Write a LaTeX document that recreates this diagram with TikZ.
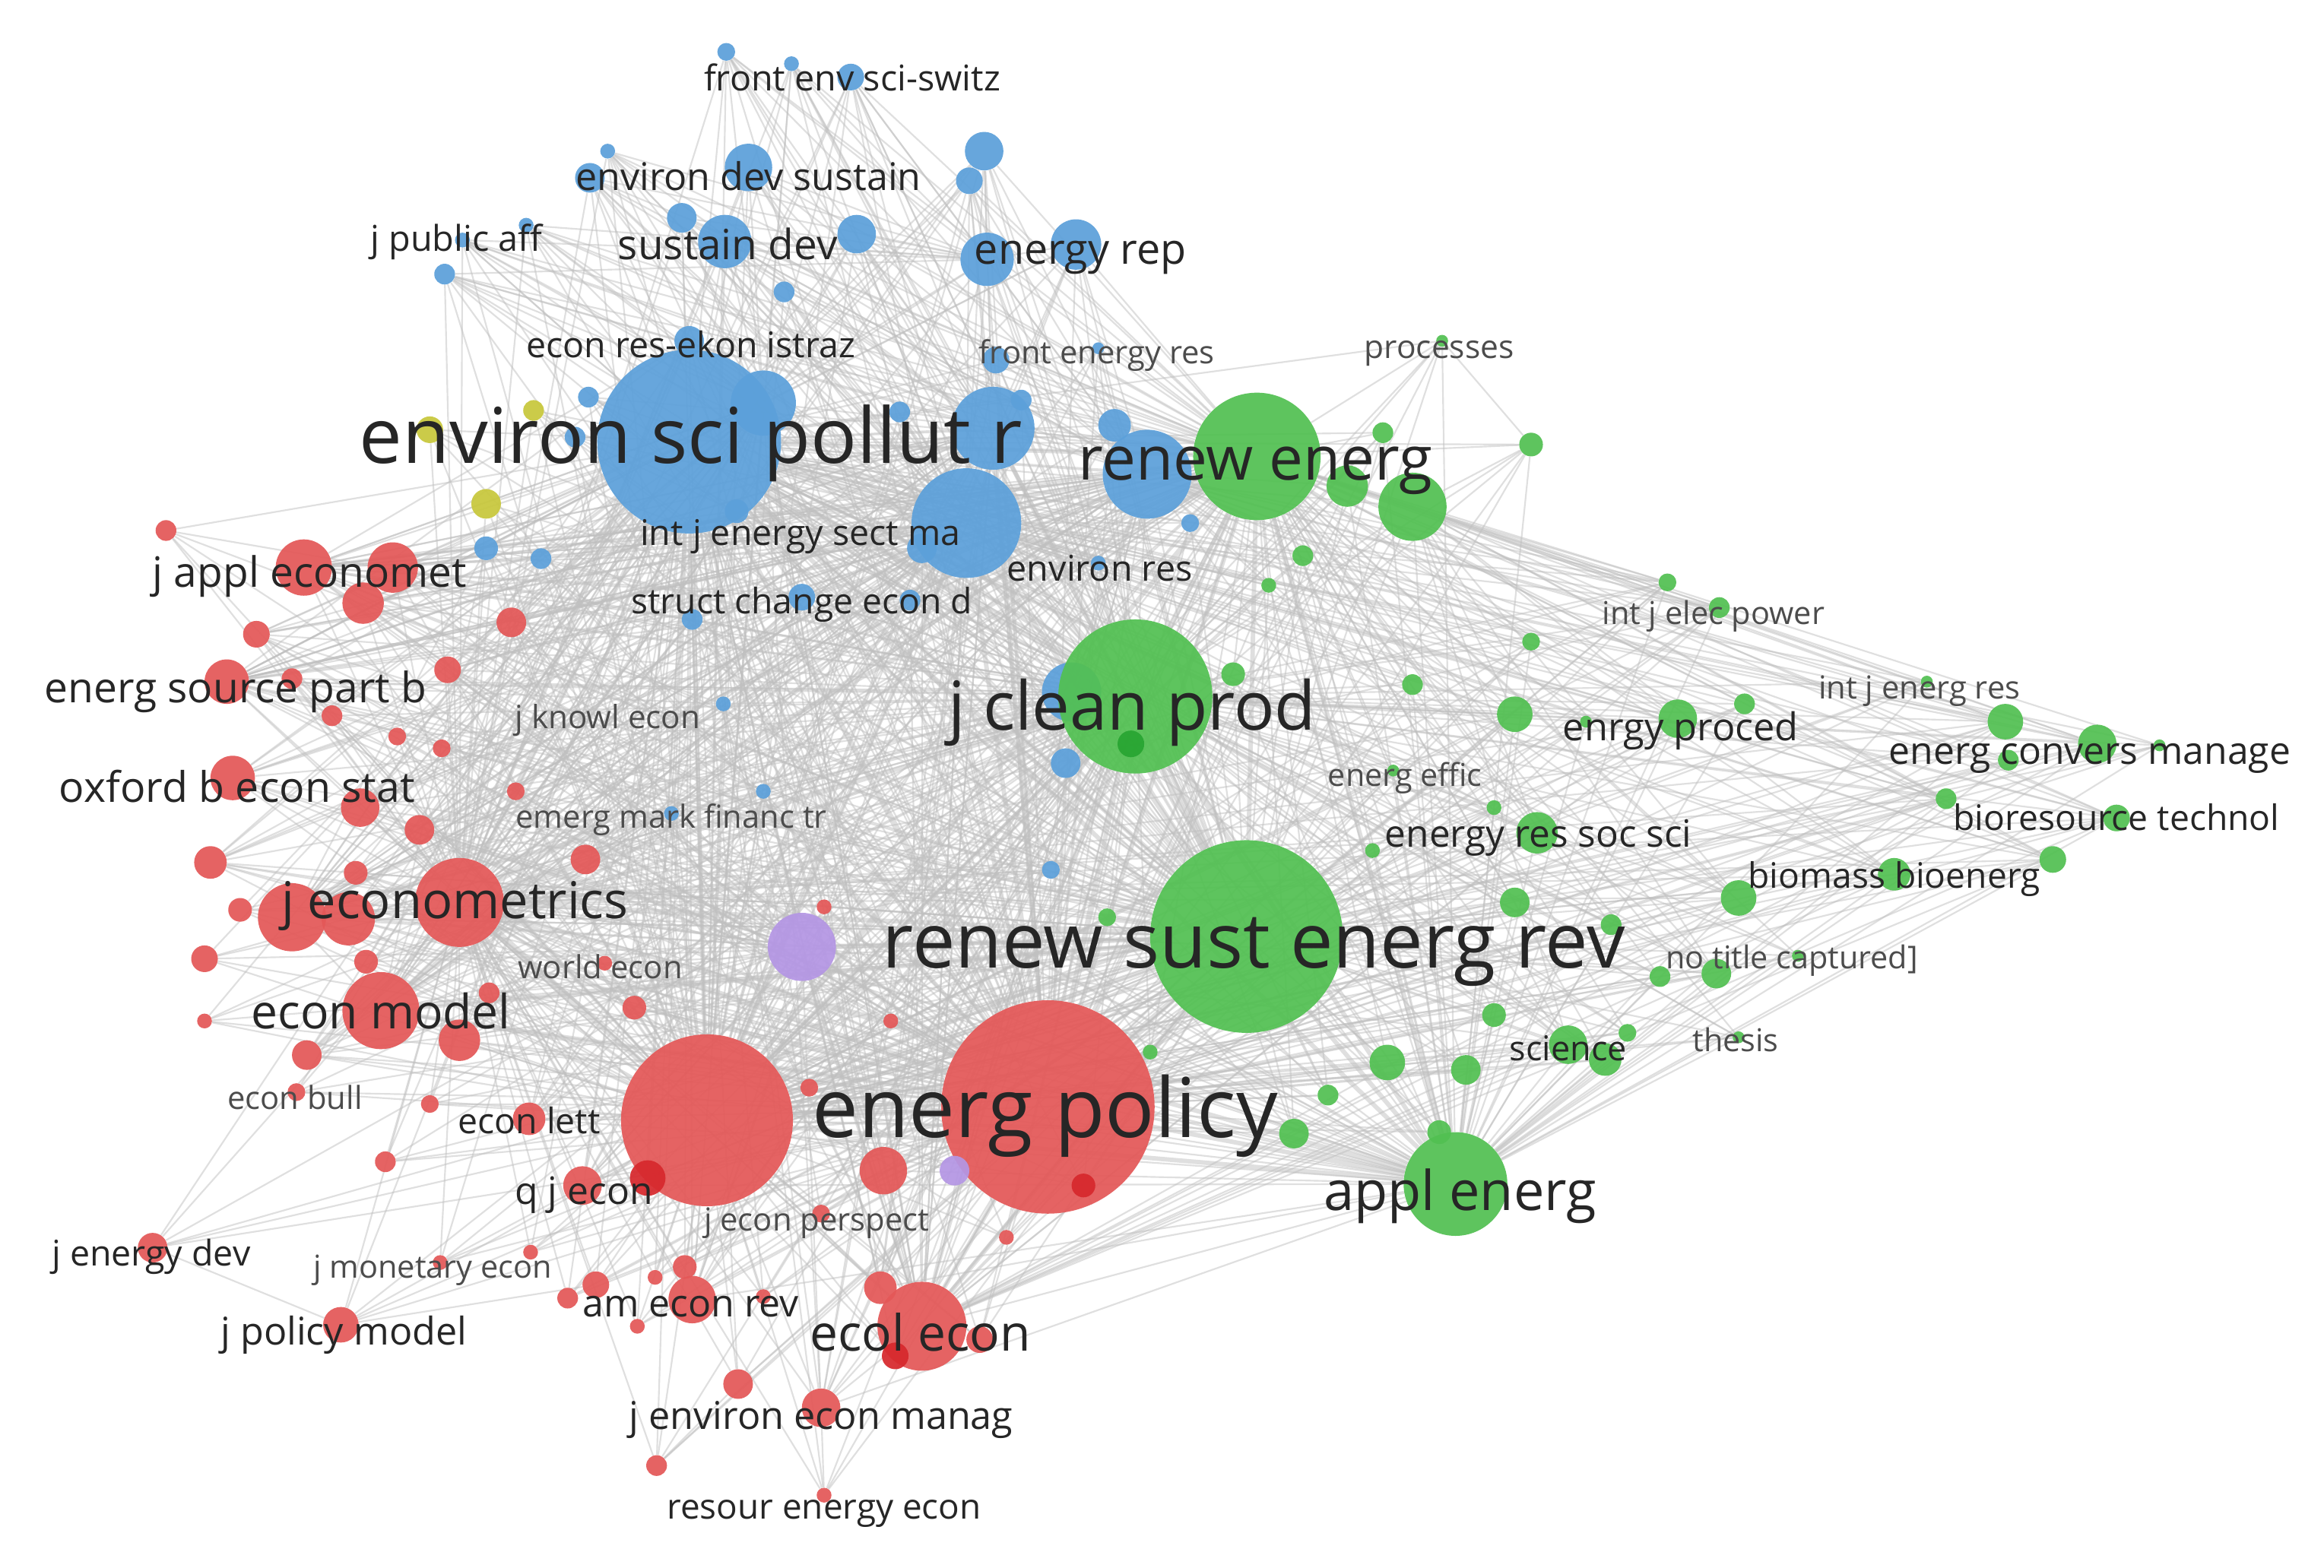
\documentclass[tikz,border=0pt]{standalone}
\usepackage{fontspec}
\setmainfont{Open Sans}
\usepackage{graphicx}
\usetikzlibrary{backgrounds}
\definecolor{cred}{RGB}{228,88,88}
\definecolor{cdred}{RGB}{215,40,45}
\definecolor{cblue}{RGB}{92,160,218}
\definecolor{cgreen}{RGB}{82,192,82}
\definecolor{cdgreen}{RGB}{40,165,50}
\definecolor{cyel}{RGB}{200,200,60}
\definecolor{cpur}{RGB}{180,150,228}
\definecolor{cedge}{RGB}{192,192,192}
\tikzset{
  dot/.style={circle,inner sep=0pt,draw=none,fill opacity=0.93},
  edge/.style={draw=cedge,line width=1.1pt,draw opacity=0.5},
  hubedge/.style={draw=cedge,line width=3pt,draw opacity=0.5},
  lbl/.style={inner sep=0pt,text=black!85,yshift=-3pt},
  slbl/.style={inner sep=0pt,text=black!70,yshift=-3pt},
}
\newcommand{\lab}[2]{\resizebox{#1pt}{!}{\vphantom{lg}#2}}
\begin{document}
\begin{tikzpicture}[x=1pt,y=-1pt]
\useasboundingbox (0,0) rectangle (1568,1058);
% ---------- red nodes
\foreach \n/\x/\y/\r in {r1/707/747/72,r2/477/756/58,r4/596/790/16,r5/601/689/5,r6/556/612/5,r7/546/734/6,r8/554/819/6,r9/679/835/5,r10/622/895/30,r11/594/869/11,r13/661/904/9,r14/554/950/13,r15/498/934/10,r16/556/1009/5,r17/443/989/7,r18/467/877/16,r19/462/855/8,r20/442/862/5,r21/402/867/9,r22/383/876/7,r23/430/895/5,r24/515/875/5,r25/393/800/13,r27/357/755/11,r28/290/745/6,r29/260/784/7,r30/200/737/6,r31/207/712/10,r32/138/689/5,r33/257/682/26,r34/310/702/14,r35/330/670/7,r36/428/680/8,r37/408/650/5,r38/247/649/8,r39/138/647/9,r40/197/619/23,r41/235/620/18,r42/310/609/30,r43/162/614/8,r44/240/589/8,r45/142/582/11,r46/395/580/10,r47/283/560/10,r48/243/545/13,r49/157/525/15,r50/348/534/6,r51/153/460/15,r52/197/458/7,r53/302/452/9,r54/224/483/7,r55/268/497/6,r56/298/505/6,r57/173/428/9,r58/345/420/10,r59/205/383/19,r60/265/383/17,r61/245/407/14,r62/112/358/7,r63/103/842/10,r64/297/852/5,r65/358/845/5,r66/230/894/12}
  \node[dot,fill=cred,minimum size={2*\r pt}] (\n) at (\x,\y) {};
\foreach \n/\x/\y/\r in {r3/731/800/8,r12/604/915/9,r26/437/795/12}
  \node[dot,fill=cdred,minimum size={2*\r pt}] (\n) at (\x,\y) {};
% ---------- blue nodes
\foreach \n/\x/\y/\r in {b1/465/298/62,b2/515/272/22,b3/670/289/28,b4/652/353/37,b5/689/270/7,b6/607/278/7,b7/622/370/10,b8/774/320/30,b9/752/287/11,b10/803/353/6,b11/741/380/5,b12/614/405/7,b13/467/418/7,b14/541/403/9,b15/723/467/20,b16/719/515/10,b17/666/175/18,b18/726/165/17,b19/664/102/13,b20/654/122/9,b21/578/158/13,b22/574/52/9,b23/534/43/5,b24/490/35/6,b25/410/102/5,b26/398/120/10,b27/505/113/16,b28/460/147/10,b29/489/163/18,b30/312/162/5,b31/355/152/5,b32/300/185/7,b33/529/197/7,b34/465/230/10,b35/397/268/7,b36/388/295/7,b37/497/345/8,b38/328/370/8,b39/365/377/7,b40/488/475/5,b41/453/549/5,b42/515/534/5,b43/709/587/6,b44/672/243/9,b45/741/235/4}
  \node[dot,fill=cblue,minimum size={2*\r pt}] (\n) at (\x,\y) {};
% ---------- yellow / purple
\foreach \n/\x/\y/\r in {y1/290/290/9,y2/360/277/7,y3/328/340/10}
  \node[dot,fill=cyel,minimum size={2*\r pt}] (\n) at (\x,\y) {};
\foreach \n/\x/\y/\r in {p1/541/639/23,p2/644/790/10}
  \node[dot,fill=cpur,minimum size={2*\r pt}] (\n) at (\x,\y) {};
% ---------- green nodes
\foreach \n/\x/\y/\r in {g1/841/632/65,g2/766/470/52,g4/848/308/43,g5/909/328/14,g6/953/342/23,g7/933/292/7,g8/1033/300/8,g9/879/375/7,g10/856/395/5,g11/973/230/4,g12/1033/433/6,g13/953/462/7,g14/1022/482/12,g15/832/455/8,g16/1125/393/6,g17/1160/410/7,g18/1300/460/4,g19/1132/485/13,g20/1177/475/7,g21/1070/487/4,g22/1353/487/12,g23/1415/502/13,g24/1355/513/7,g25/1457/503/4,g26/1313/539/7,g27/1428/552/9,g28/1385/580/9,g29/1278/590/11,g30/1173/606/12,g31/1087/624/7,g32/1120/659/7,g33/1158/657/10,g34/1213/645/4,g35/1173/700/4,g36/1058/705/13,g37/1083/715/11,g38/1098/697/6,g39/1037/562/14,g40/1008/545/5,g41/926/574/5,g42/1022/609/10,g43/1008/685/8,g44/936/717/12,g45/989/722/10,g46/896/739/7,g47/873/765/10,g48/776/710/5,g49/747/619/6,g50/982/799/35,g51/971/764/8,g52/940/520/4}
  \node[dot,fill=cgreen,minimum size={2*\r pt}] (\n) at (\x,\y) {};
\node[dot,fill=cdgreen,minimum size=18pt] (g3) at (763,502) {};
% ---------- labels
\foreach \n/\x/\y/\w/\t in {
 L1/575/52/200/front env sci-switz,
 L2/505/119/233/environ dev sustain,
 L3/308/160/116/j public aff,
 L4/491/165/148/sustain dev,
 L5/729/168/143/energy rep,
 L6/466/232/222/econ res-ekon istraz,
 L9/466/296/447/environ sci pollut r,
 L10/847/310/239/renew energ,
 L11/540/359/216/int j energy sect ma,
 L12/209/386/212/j appl economet,
 L13/742/383/125/environ res,
 L14/541/405/230/struct change econ d,
 L16/159/464/258/energ source part b,
 L18/764/478/248/j clean prod,
 L20/1134/490/159/enrgy proced,
 L21/1410/506/271/energ convers manage,
 L23/160/531/240/oxford b econ stat,
 L25/1038/562/207/energy res soc sci,
 L26/1428/551/220/bioresource technol,
 L27/1278/590/197/biomass bioenerg,
 L28/307/608/234/j econometrics,
 L29/846/637/501/renew sust energ rev,
 L32/257/683/175/econ model,
 L33/1058/707/79/science,
 L36/705/750/314/energ policy,
 L37/357/756/96/econ lett,
 L38/985/804/184/appl energ,
 L39/394/803/93/q j econ,
 L41/102/845/134/j energy dev,
 L43/466/879/146/am econ rev,
 L44/232/898/166/j policy model,
 L45/621/900/149/ecol econ,
 L46/554/955/259/j environ econ manag,
 L47/556/1016/212/resour energy econ}
  \node[lbl] (\n) at (\x,\y) {\lab{\w}{\t}};
\foreach \n/\x/\y/\w/\t in {
 L7/740/237/159/front energy res,
 L8/971/233/101/processes,
 L15/1156/413/150/int j elec power,
 L17/410/483/125/j knowl econ,
 L19/1295/463/136/int j energ res,
 L22/948/522/104/energ effic,
 L24/453/550/210/emerg mark financ tr,
 L30/1209/645/170/no title captured],
 L31/405/652/111/world econ,
 L34/1171/701/58/thesis,
 L35/199/740/91/econ bull,
 L40/551/822/152/j econ perspect,
 L42/292/854/161/j monetary econ}
  \node[slbl] (\n) at (\x,\y) {\lab{\w}{\t}};
% ---------- edges
\begin{pgfonlayer}{background}
\fill[white] (0,0) rectangle (1568,1058);
\foreach \a in {r3,r4,r5,r6,r7,r8,r9,r10,r11,r12,r13,r14,r15,r16,r17,r18,r19,r20,r21,r22,r23,r24,r25,r26,r27,r28,r29,r30,r31,r32,r33,r34,r35,r36,r37,r38,r39,r40,r41,r43,r44,r45,r46,r47,r48,r49,r50,r51,r52,r53,r54,r55,r56,r57,r58,r59,r60,r61,r62,r63,r64,r65,r66}
  \foreach \h in {r1,r2,b1,g1,r42,g2}
    \draw[edge] (\a) -- (\h);
\foreach \a in {b2,b3,b5,b6,b7,b8,b9,b10,b11,b12,b13,b14,b15,b16,b17,b18,b19,b20,b21,b22,b23,b24,b25,b26,b27,b28,b29,b30,b31,b32,b33,b34,b35,b36,b37,b38,b39,b40,b41,b42,b43,b44,b45}
  \foreach \h in {b1,g1,r1,g2,g4,b4,r2}
    \draw[edge] (\a) -- (\h);
\foreach \a in {g3,g5,g6,g7,g8,g9,g10,g11,g12,g13,g14,g15,g16,g17,g18,g19,g20,g21,g22,g23,g24,g25,g26,g27,g28,g29,g30,g31,g32,g33,g34,g35,g36,g37,g38,g39,g40,g41,g42,g43,g44,g45,g46,g47,g48,g49,g51,g52}
  \foreach \h in {g1,g2,g4,r1,g50,b1,r2}
    \draw[edge] (\a) -- (\h);
\foreach \a in {y1,y2,y3,p1,p2}
  \foreach \h in {b1,r1,r2,g1,g2,r42}
    \draw[edge] (\a) -- (\h);
\foreach \a in {r59,r60,r61,r51,r49,r40,r41,r33,r10,r18,r14,r25,r27,r48,r45,r4,r34,r46,r58,r53,r47,r57,r31,r36,r11}
  \foreach \h in {g4,b4,g50,b3,b2,b8,p1}
    \draw[edge] (\a) -- (\h);
\foreach \a in {b2,b3,b4,b7,b8,b12,b13,b14,b15,b34,b37,b38,b39,b40,b41,b42,b43}
  \foreach \h in {r42,r33,r10,r40,r59,r51}
    \draw[edge] (\a) -- (\h);
\foreach \a in {b17,b18,b19,b20,b21,b22,b23,b24,b25,b26,b27,b28,b29,b30,b31,b32}
  \foreach \h in {b3,b8,r42,b2,b17}
    \draw[edge] (\a) -- (\h);
\foreach \a in {g19,g22,g23,g26,g27,g28,g29,g30,g14,g39,g33,g36,g16,g17}
  \foreach \h in {b4,r42,g6,b8,r10}
    \draw[edge] (\a) -- (\h);
\foreach \a/\b in {r1/r2,r1/b1,r1/g1,r1/g2,r1/g4,r1/g50,r1/r42,r2/b1,r2/g1,r2/g2,r2/g4,r2/g50,r2/r42,b1/g1,b1/g2,b1/g4,b1/g50,b1/r42,g1/g2,g1/g4,g1/g50,g1/r42,g2/g4,g2/g50,g2/r42,g4/g50,g4/r42,g50/r42,b4/r1,b4/g1,b4/r2,b3/g1,b3/r1,r33/r1,r33/g1,r10/r1,r10/g1,p1/r1,p1/g1}
  \draw[hubedge] (\a) -- (\b);
\foreach \a/\b in {g11/g8,g8/g6,r63/r66,r66/r21,r33/r40,r10/r14,r16/r14,r17/r15}
  \draw[edge] (\a) -- (\b);
\end{pgfonlayer}
\end{tikzpicture}
\end{document}
